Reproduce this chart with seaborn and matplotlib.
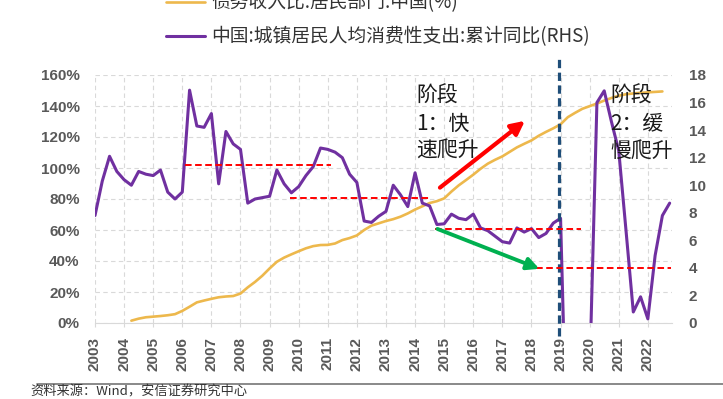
import numpy as np
import pandas as pd
import seaborn as sns
import matplotlib.pyplot as plt

sns.set_style('white')
plt.rcParams['font.family'] = ['Noto Sans CJK SC', 'DejaVu Sans']
plt.rcParams['axes.unicode_minus'] = False

# 季度数据
consume_start = 2003.0
consume_yoy = [7.8, 10.3, 12.1, 11.0, 10.4, 10.0, 11.0, 10.8, 10.7, 11.1,
               9.5, 9.0, 9.5, 16.9, 14.3, 14.2, 15.2, 10.1, 13.9, 13.0,
               12.6, 8.7, 9.0, 9.1, 9.2, 11.1, 10.1, 9.45, 9.9, 10.7,
               11.35, 12.7, 12.6, 12.4, 12.0, 10.8, 10.2, 7.4, 7.3, 7.75,
               8.1, 10.0, 9.3, 8.45, 10.9, 8.7, 8.5, 7.15, 7.2, 7.9,
               7.6, 7.5, 7.9, 6.9, 6.7, 6.3, 5.9, 5.8, 6.9, 6.6,
               6.85, 6.2, 6.5, 7.25, 7.6, -12.0, -9.1, -6.6, -3.8, 16.0,
               16.85, 14.6, 12.5, 6.7, 0.8, 1.9, 0.3, 4.9, 7.8, 8.7]

debt_start = 2004.25
debt_income = [1.5, 2.8, 3.7, 4.1, 4.5, 5.0, 5.7, 7.8, 10.5, 13.3,
               14.5, 15.6, 16.6, 17.1, 17.4, 19.0, 23.0, 26.5, 30.5, 35.2,
               39.5, 42.2, 44.3, 46.3, 48.2, 49.6, 50.3, 50.4, 51.3, 53.5,
               54.8, 56.5, 60.0, 62.8, 64.3, 65.8, 67.0, 68.6, 70.7, 73.2,
               75.3, 77.4, 78.6, 80.4, 84.8, 88.8, 92.2, 95.7, 99.5, 102.8,
               105.3, 107.5, 110.4, 113.3, 115.6, 117.8, 120.8, 123.3, 125.6, 128.2,
               132.8, 135.6, 138.2, 139.9, 141.6, 143.5, 145.2, 146.6, 147.6, 148.1,
               148.5, 148.8, 149.1, 149.4]

years = list(range(2003, 2023))
label_debt = '债务收入比:居民部门:中国(%)'
label_cons = '中国:城镇居民人均消费性支出:累计同比(RHS)'

# 红色虚线水平 (RHS), 起止年份
level_vals = [11.5, 9.1, 6.8, 4.0]
level_from = [2006.1, 2009.7, 2014.7, 2017.8]
level_to = [2011.1, 2014.5, 2019.7, 2022.8]

df_c = pd.DataFrame({'t': consume_start + 0.25 * np.arange(len(consume_yoy)), 'v': consume_yoy})
df_d = pd.DataFrame({'t': debt_start + 0.25 * np.arange(len(debt_income)), 'v': debt_income})

purple = '#7030A0'
gold = '#EDB84C'
grid_c = '#D9D9D9'
tick_c = '#595959'

fig = plt.figure(figsize=(7.23, 3.99), dpi=100)
ax = fig.add_axes([95 / 723, 76 / 399, 577 / 723, 248 / 399])
ax2 = ax.twinx()

sns.lineplot(data=df_d, x='t', y='v', ax=ax, color=gold, linewidth=1.9, legend=False)
sns.lineplot(data=df_c, x='t', y='v', ax=ax2, color=purple, linewidth=2.2, legend=False)

ax.set_xlim(2003, 2022.83)
ax.set_ylim(0, 160)
ax2.set_ylim(0, 18)

tick_font = dict(fontfamily='Liberation Sans', fontweight='bold', fontsize=11, color=tick_c)
ax.set_xticks(years)
ax.set_xticklabels([str(y) for y in years], rotation=90, **tick_font)
ax.set_yticks(range(0, 161, 20))
ax.set_yticklabels([f'{v}%' for v in range(0, 161, 20)], **tick_font)
ax2.set_yticks(range(0, 19, 2))
ax2.set_yticklabels([str(v) for v in range(0, 19, 2)], **tick_font)
ax.tick_params(axis='x', length=3, color=grid_c, pad=7, bottom=True)
ax.tick_params(axis='y', length=0, pad=11)
ax2.tick_params(axis='y', length=0, pad=12)
ax.set_xlabel('')
ax.set_ylabel('')
ax2.set_ylabel('')

ax.grid(True, color=grid_c, linestyle=(0, (4, 3)), linewidth=0.8)
ax2.grid(False)
for s in ['top', 'left', 'right']:
    ax.spines[s].set_visible(False)
for s in ax2.spines.values():
    s.set_visible(False)
ax.spines['bottom'].set_color(grid_c)

# 2019 分界线
ax2.axvline(2018.95, ymin=-0.052, ymax=1.073, clip_on=False, color='#1F4E79',
            linewidth=2.3, linestyle=(0, (2.6, 1.4)))

ax2.hlines(level_vals, level_from, level_to, colors='red', linewidth=1.4,
           linestyles=[(0, (3.4, 1.8))])

ax2.annotate('', xy=(2017.85, 14.8), xytext=(2014.78, 9.7),
             arrowprops=dict(arrowstyle='-|>', color='#FF0000', lw=3.0, mutation_scale=20))
ax2.annotate('', xy=(2018.36, 3.86), xytext=(2014.68, 6.9),
             arrowprops=dict(arrowstyle='-|>', color='#00B050', lw=2.8, mutation_scale=18))

ax2.text(2014.03, 17.27, '阶段\n1：快\n速爬升', ha='left', va='top', fontsize=15,
         linespacing=1.32, color='#1a1a1a')
ax2.text(2020.70, 17.27, '阶段\n2：缓\n慢爬升', ha='left', va='top', fontsize=15,
         linespacing=1.32, color='#1a1a1a')

fig.legend([ax.lines[0], ax2.lines[0]], [label_debt, label_cons],
           loc='center left', bbox_to_anchor=(166 / 723, 1 - 20 / 399), frameon=False,
           fontsize=13.5, labelcolor='#333333', handlelength=2.1, handletextpad=0.3,
           labelspacing=0.7, borderpad=0, borderaxespad=0)

fig.add_artist(plt.Line2D([37 / 723, 1], [1 - 384 / 399, 1 - 384 / 399],
                          color='#808080', linewidth=1.3))
fig.text(30 / 723, 1 - 392 / 399, '资料来源：Wind，安信证券研究中心', fontsize=9.5,
         style='italic', color='#333333', va='center', ha='left')

fig.savefig('out.png', dpi=100)
